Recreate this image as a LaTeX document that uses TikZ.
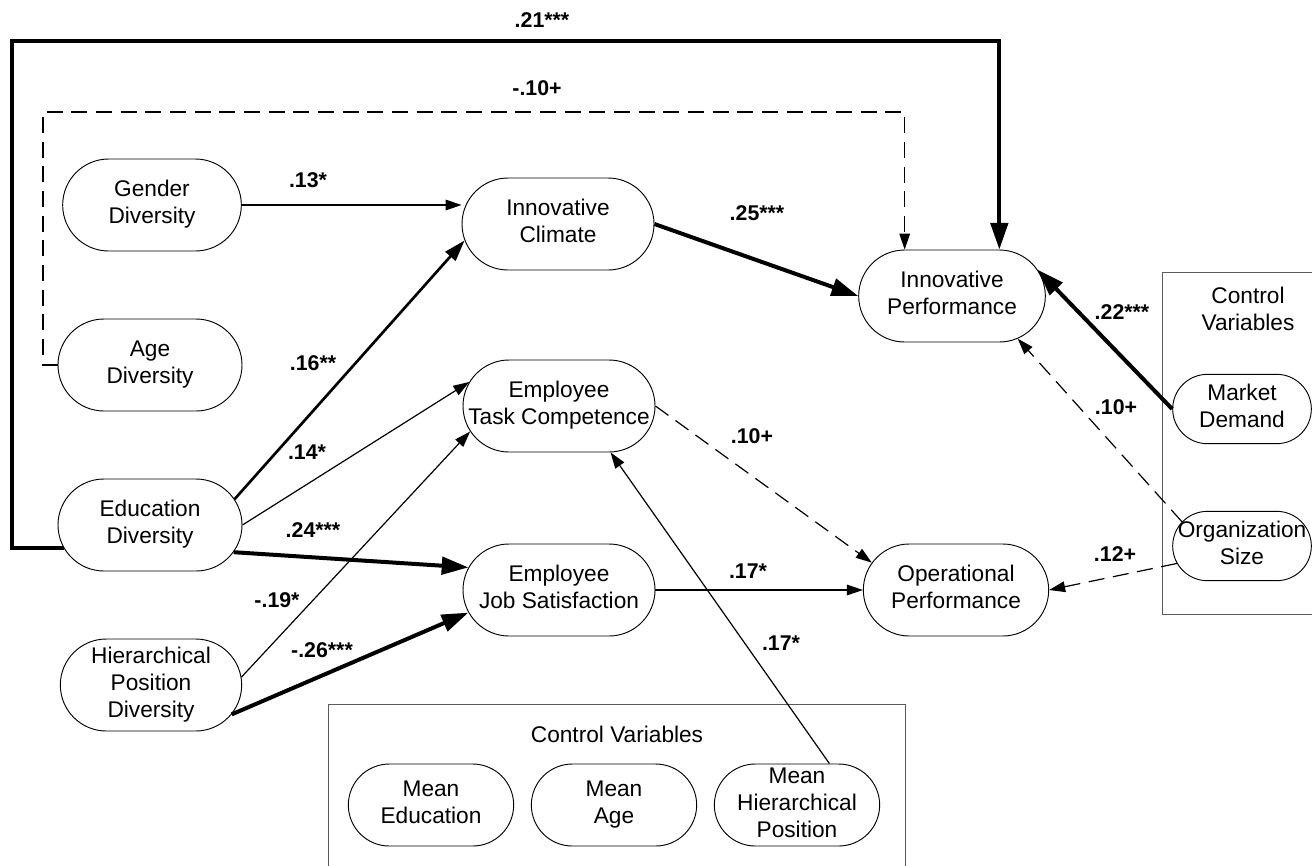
\documentclass[tikz,border=0pt]{standalone}
\usepackage{fontspec}
\setmainfont{Liberation Sans}
\usepackage{tikz}
\usetikzlibrary{shapes.misc, arrows.meta, positioning, calc}
\definecolor{boxgray}{RGB}{90, 90, 90}
\newcommand{\vtext}[1]{\makebox[0pt]{\begin{tabular}{@{}c@{}}#1\end{tabular}}}

\begin{document}
\begin{tikzpicture}[
    x=0.75pt, y=-0.75pt,
    var_node/.style={draw, rounded rectangle, inner sep=0pt, minimum width=138pt, minimum height=69pt, line width=0.7pt, font=\fontsize{17}{20.3}\selectfont},
    ctrl_node/.style={var_node, minimum width=104pt, minimum height=52pt},
    mean_node/.style={var_node, minimum width=124pt, minimum height=61.5pt},
    box_title/.style={font=\fontsize{17}{20.3}\selectfont, align=center},
    ctrl_box/.style={draw=boxgray, line width=0.6pt},
    coef/.style={font=\fontsize{16}{19}\selectfont\bfseries},
    thin_arrow/.style={-{Triangle[length=12pt, width=8pt]}, line width=0.9pt},
    mid_arrow/.style={-{Triangle[length=16pt, width=10pt]}, line width=2pt},
    bold_arrow/.style={-{Triangle[length=20pt, width=13pt]}, line width=3pt},
    dash_arrow/.style={thin_arrow, dash pattern=on 12pt off 6.5pt}
]
    \useasboundingbox (0,0) rectangle (1312,865);
    \clip (0,0) rectangle (1312,865);

    % Control boxes
    \draw[ctrl_box] (1162,272) rectangle (1330,614);
    \draw[ctrl_box] (328,704) rectangle (905,880);
    \node[box_title] (ctrl_right) at (1248,309) {Control\\Variables};
    \node[box_title] (ctrl_bottom) at (617,734) {Control Variables};

    % Diversity nodes
    \node[var_node, minimum width=134pt] (gen) at (152,205) {\vtext{Gender\\Diversity}};
    \node[var_node] (age) at (150,365) {\vtext{Age\\Diversity}};
    \node[var_node] (edu) at (150,525) {\vtext{Education\\Diversity}};
    \node[var_node, minimum width=136pt] (hier) at (151,685) {\vtext{Hierarchical\\Position\\Diversity}};

    % Mediators
    \node[var_node, minimum width=144pt] (clim) at (558,224) {\vtext{Innovative\\Climate}};
    \node[var_node, minimum width=144pt] (tc) at (559,406) {\vtext{Employee\\Task Competence}};
    \node[var_node, minimum width=144pt] (js) at (559,590) {\vtext{Employee\\Job Satisfaction}};

    % Outcomes
    \node[var_node, minimum width=140pt] (ip) at (952,296) {\vtext{Innovative\\Performance}};
    \node[var_node, minimum width=139pt] (op) at (956,590) {\vtext{Operational\\Performance}};

    % Control variables
    \node[ctrl_node] (md) at (1242,409) {\vtext{Market\\Demand}};
    \node[ctrl_node] (os) at (1242,546) {\vtext{Organization\\Size}};
    \node[mean_node] (medu) at (431,805) {\vtext{Mean\\Education}};
    \node[mean_node] (mage) at (614,805) {\vtext{Mean\\Age}};
    \node[mean_node] (mhp) at (797,805) {\vtext{Mean\\Hierarchical\\Position}};

    % Corners of the long paths
    \coordinate (top_corner) at (12,41);
    \coordinate (dash_corner) at (43,112);

    % Arrows
    \draw[bold_arrow] (edu.195) -| (top_corner) -| (ip.north east);
    \draw[dash_arrow] (age.west) -| (dash_corner) -| (ip.north west);
    \draw[thin_arrow] (gen.east) -- (gen.east -| clim.west);
    \draw[mid_arrow] (edu.17) -- (clim.190);
    \draw[thin_arrow] (edu.east) -- (tc.165);
    \draw[bold_arrow] (edu.-18) -- (js.166);
    \draw[thin_arrow] (hier.5) -- (tc.196);
    \draw[bold_arrow] (hier.-20) -- (js.194);
    \draw[bold_arrow] (clim.east) -- (ip.west);
    \draw[dash_arrow] (tc.east) -- (op.162);
    \draw[thin_arrow] (js.east) -- (op.west);
    \draw[thin_arrow] (mhp.52) -- (tc.-42);
    \draw[bold_arrow] (md.west) -- (ip.17);
    \draw[dash_arrow] (os.158) -- (ip.-33);
    \draw[dash_arrow] (os.195) -- (op.east);

    % Labels
    \node[coef] (c_edu_ip) at (542,20) {.21***};
    \node[coef] (c_age_ip) at (537,88) {-.10+};
    \node[coef] (c_gen_clim) at (308,180) {.13*};
    \node[coef] (c_edu_clim) at (313,363) {.16**};
    \node[coef] (c_edu_tc) at (307,452) {.14*};
    \node[coef] (c_edu_js) at (313,530) {.24***};
    \node[coef] (c_hier_tc) at (277,600) {-.19*};
    \node[coef] (c_hier_js) at (322,650) {-.26***};
    \node[coef] (c_clim_ip) at (757,213) {.25***};
    \node[coef] (c_tc_op) at (752,436) {.10+};
    \node[coef] (c_js_op) at (748,571) {.17*};
    \node[coef] (c_mhp_tc) at (781,643) {.17*};
    \node[coef] (c_md_ip) at (1122,312) {.22***};
    \node[coef] (c_os_ip) at (1116,407) {.10+};
    \node[coef] (c_os_op) at (1115,554) {.12+};
\end{tikzpicture}
\end{document}
